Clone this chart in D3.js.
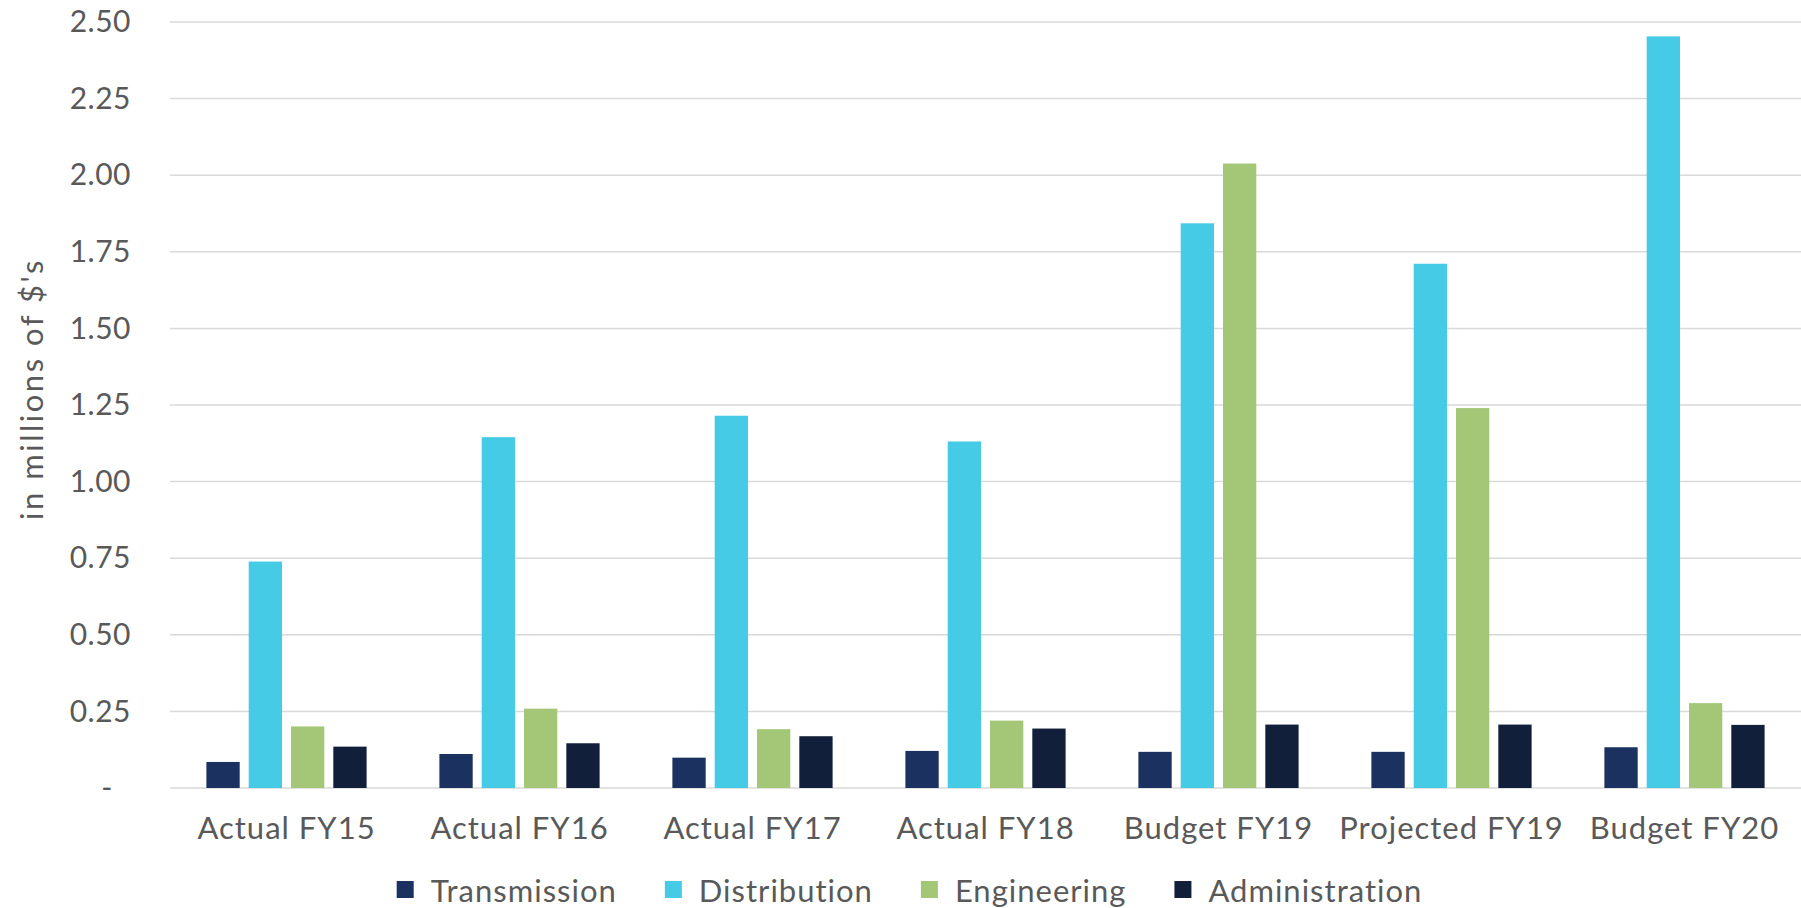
<!DOCTYPE html>
<html>
<head>
<meta charset="utf-8">
<script src="https://cdn.jsdelivr.net/npm/d3@7"></script>
<style>
  body { margin: 0; background: #fff; }
  text { font-family: Lato, "Open Sans", sans-serif; fill: #595959; }
</style>
</head>
<body>
<script>
var width = 1801, height = 908;
var margins = { top: 22, left: 170, right: 0, bottom: 120 };

// data (in millions of $)
var categories = ['Actual FY15', 'Actual FY16', 'Actual FY17', 'Actual FY18', 'Budget FY19', 'Projected FY19', 'Budget FY20'];
var seriesNames = ['Transmission', 'Distribution', 'Engineering', 'Administration'];
var transmission   = [0.085, 0.111, 0.099, 0.121, 0.118, 0.118, 0.133];
var distribution   = [0.739, 1.145, 1.215, 1.131, 1.843, 1.711, 2.453];
var engineering    = [0.201, 0.259, 0.192, 0.220, 2.038, 1.240, 0.277];
var administration = [0.135, 0.146, 0.169, 0.194, 0.207, 0.207, 0.206];
var yTicks = [0, 0.25, 0.5, 0.75, 1.0, 1.25, 1.5, 1.75, 2.0, 2.25, 2.5];
var colors = ['#1b3160', '#46cbe6', '#a3c777', '#121f3b'];

var seriesValues = [transmission, distribution, engineering, administration];
var plotH = 788 - margins.top;

var svg = d3.select('body')
  .append('svg')
  .attr('width', width)
  .attr('height', height);

var x0 = d3.scaleBand().domain(categories).range([margins.left, width - margins.right]).padding(0);
var x1 = d3.scaleBand().domain(seriesNames).range([0, x0.bandwidth()]).paddingInner(0.213).paddingOuter(0.86);
var y = d3.scaleLinear().domain([0, 2.5]).range([margins.top + plotH, margins.top]);
var color = d3.scaleOrdinal().domain(seriesNames).range(colors);

// gridlines
svg.append('g')
  .selectAll('line')
  .data(yTicks)
  .join('line')
  .attr('x1', margins.left)
  .attr('x2', width - margins.right)
  .attr('y1', function (d) { return y(d); })
  .attr('y2', function (d) { return y(d); })
  .attr('stroke', '#d9d9d9')
  .attr('stroke-width', 1.5);

// y axis labels
var yAxis = d3.axisLeft(y).tickValues(yTicks).tickSize(0).tickPadding(0)
  .tickFormat(function (d) { return d === 0 ? '-' : d3.format('.2f')(d); });
var yAxisG = svg.append('g')
  .attr('transform', 'translate(131,0)')
  .call(yAxis);
yAxisG.select('.domain').remove();
yAxisG.selectAll('text').style('font-size', '30px').style('letter-spacing', '0.5px').attr('fill', '#595959');
yAxisG.selectAll('.tick').filter(function (d) { return d === 0; }).select('text').attr('dx', -18);

// y title
svg.append('text')
  .attr('transform', 'translate(43,389) rotate(-90)')
  .attr('text-anchor', 'middle')
  .style('font-size', '31px')
  .style('letter-spacing', '2.5px')
  .text("in millions of $'s");

// bars
var groups = svg.append('g')
  .selectAll('g')
  .data(categories)
  .join('g')
  .attr('transform', function (d) { return 'translate(' + x0(d) + ',0)'; });

groups.selectAll('rect')
  .data(function (d, i) {
    return seriesNames.map(function (s, j) { return { key: s, value: seriesValues[j][i] }; });
  })
  .join('rect')
  .attr('x', function (d) { return x1(d.key); })
  .attr('width', x1.bandwidth())
  .attr('y', function (d) { return y(d.value); })
  .attr('height', function (d) { return y(0) - y(d.value); })
  .attr('fill', function (d) { return color(d.key); });

// x axis
var xAxis = d3.axisBottom(x0).tickSize(0).tickPadding(0);
var xAxisG = svg.append('g')
  .attr('transform', 'translate(0,' + 817 + ')')
  .call(xAxis);
xAxisG.select('.domain').remove();
xAxisG.selectAll('text').style('font-size', '31px').style('letter-spacing', '1px')
  .attr('fill', '#595959').attr('dy', '0.71em');

// legend
var legend = svg.append('g');
var items = legend.selectAll('g')
  .data(seriesNames)
  .join('g');
items.append('rect')
  .attr('width', 17).attr('height', 17)
  .attr('y', 881)
  .attr('fill', function (d) { return color(d); });
items.append('text')
  .attr('x', 34)
  .attr('y', 902)
  .style('font-size', '31px')
  .style('letter-spacing', '1px')
  .text(function (d) { return d; });
var offsets = [], cur = 0;
items.each(function () {
  offsets.push(cur);
  cur += 34 + this.querySelector('text').getComputedTextLength() + 48;
});
cur -= 48;
var start = 909.5 - cur / 2;
items.attr('transform', function (d, i) { return 'translate(' + (start + offsets[i]) + ',0)'; });
</script>
</body>
</html>
